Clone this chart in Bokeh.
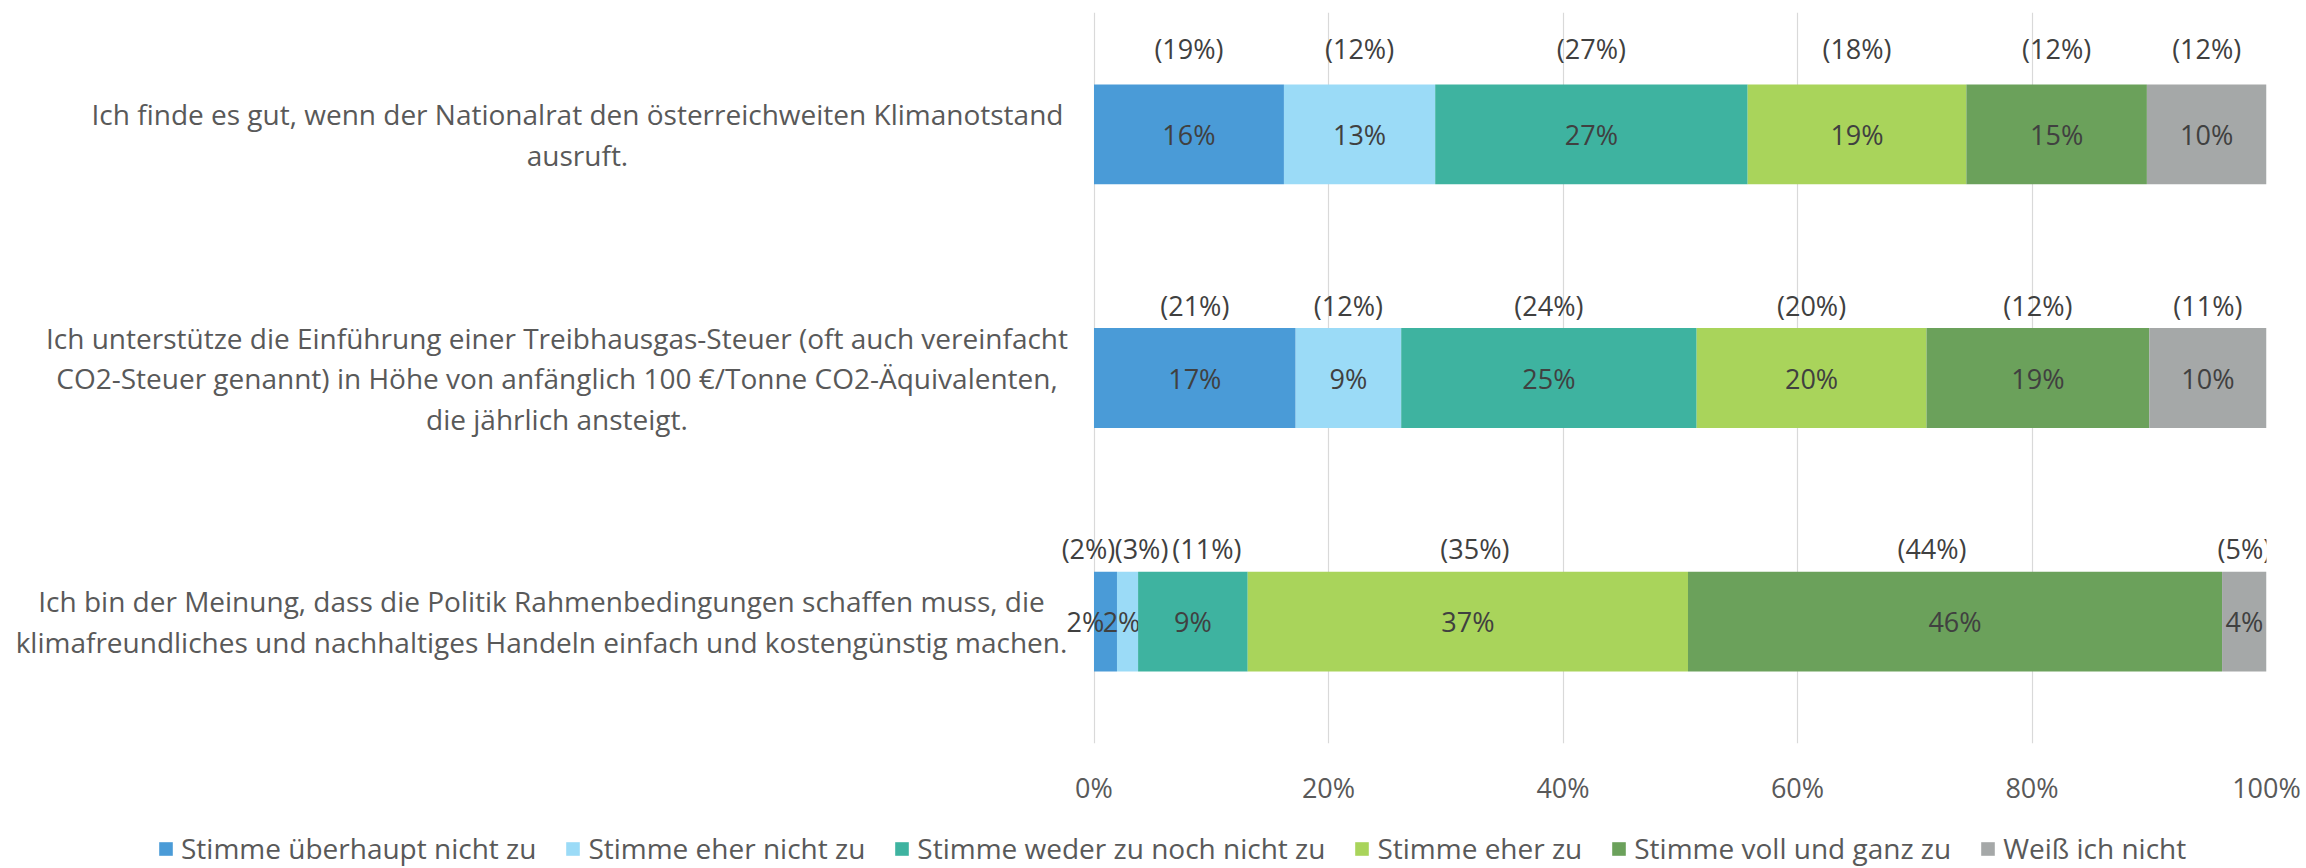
from bokeh.plotting import figure
from bokeh.models import ColumnDataSource, FactorRange, Range1d, FixedTicker, Legend, LegendItem, PrintfTickFormatter
from bokeh.layouts import column
from bokeh.embed import file_html
from bokeh.resources import INLINE
from bokeh.core.properties import value

# ---------------- data ----------------
question_keys = ["q1", "q2", "q3"]
question_texts = [
    "Ich finde es gut, wenn der Nationalrat den österreichweiten Klimanotstand\nausruft.",
    "Ich unterstütze die Einführung einer Treibhausgas-Steuer (oft auch vereinfacht\nCO2-Steuer genannt) in Höhe von anfänglich 100 €/Tonne CO2-Äquivalenten,\ndie jährlich ansteigt.",
    "Ich bin der Meinung, dass die Politik Rahmenbedingungen schaffen muss, die\nklimafreundliches und nachhaltiges Handeln einfach und kostengünstig machen.",
]
answer_categories = [
    "Stimme überhaupt nicht zu",
    "Stimme eher nicht zu",
    "Stimme weder zu noch nicht zu",
    "Stimme eher zu",
    "Stimme voll und ganz zu",
    "Weiß ich nicht",
]
# bar shares (percent of 100% stacked bar)
q1_shares = [16.2, 12.9, 26.65, 18.65, 15.4, 10.2]
q2_shares = [17.2, 9.0, 25.2, 19.6, 19.0, 10.0]
q3_shares = [1.96, 1.8, 9.35, 37.55, 45.55, 3.8]
# printed labels inside the bars
q1_labels = [16, 13, 27, 19, 15, 10]
q2_labels = [17, 9, 25, 20, 19, 10]
q3_labels = [2, 2, 9, 37, 46, 4]
# printed comparison labels above the bars (in brackets)
q1_previous = [19, 12, 27, 18, 12, 12]
q2_previous = [21, 12, 24, 20, 12, 11]
q3_previous = [2, 3, 11, 35, 44, 5]
x_ticks = [0, 20, 40, 60, 80, 100]

shares = [q1_shares, q2_shares, q3_shares]
labels = [q1_labels, q2_labels, q3_labels]
previous = [q1_previous, q2_previous, q3_previous]

# ---------------- style / layout ----------------
colors = ["#4A9BD7", "#9BDBF7", "#3EB3A0", "#A9D45B", "#6BA15B", "#A5A8A8"]
FONT = value("Open Sans")
FS = "27px"
CAT_FS = "28px"
LEG_FS = "28px"
TEXT_DARK = "#404040"
TEXT_GREY = "#595959"
W, H = 2306, 868
LEG_H = 56                                 # height of the legend strip
MAIN_H = H - LEG_H
RIGHT_BORDER = 40
ZERO_PX = 1093.5                           # 0% in figure pixels
FRAME_RIGHT = W - RIGHT_BORDER             # 100%
TOP_PX, BOTTOM_PX = 12, 743
px_per_pct = (FRAME_RIGHT - ZERO_PX) / 100.0
x_start = -ZERO_PX / px_per_pct
BAR_H = 0.41
above_offset = [-86, -73, -73]            # px above bar centre, per question
label_line_h = 40.5
label_gap = 31
label_block_w = [971, 1012, 1043]
LEGEND_X, LEGEND_Y = 157, 1
# pixel nudges for crowded labels (question index, category index) -> dx
inner_nudge = {(2, 0): -20, (2, 1): -6}
above_nudge = {(2, 0): -17, (2, 1): 14, (2, 2): 14, (2, 3): 7, (2, 4): -23}

p = figure(width=W, height=MAIN_H, output_backend="svg", toolbar_location=None,
           x_range=Range1d(x_start, 100),
           y_range=FactorRange(factors=list(reversed(question_keys))),
           y_axis_location=None,
           min_border_left=0, min_border_right=RIGHT_BORDER,
           min_border_top=TOP_PX, min_border_bottom=MAIN_H - BOTTOM_PX)
p.outline_line_color = None
p.background_fill_color = "white"
p.border_fill_color = "white"
p.ygrid.visible = False
p.xgrid.ticker = FixedTicker(ticks=x_ticks)
p.xgrid.grid_line_color = "#D9D9D9"
p.xgrid.grid_line_width = 1.2

ax = p.xaxis[0]
ax.ticker = FixedTicker(ticks=x_ticks)
ax.formatter = PrintfTickFormatter(format="%d%%")
ax.axis_line_color = None
ax.major_tick_line_color = None
ax.minor_tick_line_color = None
ax.major_label_text_font = "Open Sans"
ax.major_label_text_font_size = FS
ax.major_label_text_color = TEXT_GREY
ax.major_label_standoff = 19

for ci, cat in enumerate(answer_categories):
    left, right, ys = [], [], []
    for qi, qk in enumerate(question_keys):
        l = sum(shares[qi][:ci])
        left.append(l)
        right.append(l + shares[qi][ci])
        ys.append(qk)
    src = ColumnDataSource(dict(
        y=ys, left=left, right=right,
        xc=[(a + b) / 2 for a, b in zip(left, right)],
        txt=[f"{labels[qi][ci]}%" for qi in range(3)],
        prev=[f"({previous[qi][ci]}%)" for qi in range(3)],
        dx_in=[inner_nudge.get((qi, ci), 0) for qi in range(3)],
        dx_ab=[above_nudge.get((qi, ci), 0) for qi in range(3)],
        dy_ab=above_offset,
    ))
    p.hbar(y="y", left="left", right="right", height=BAR_H, source=src,
           fill_color=colors[ci], line_color=None)
    p.text(x="xc", y="y", text="txt", source=src, x_offset="dx_in",
           text_align="center", text_baseline="middle",
           text_font=FONT, text_font_size=FS, text_color=TEXT_DARK)
    p.text(x="xc", y="y", text="prev", source=src, x_offset="dx_ab", y_offset="dy_ab",
           text_align="center", text_baseline="middle",
           text_font=FONT, text_font_size=FS, text_color=TEXT_DARK)

# category labels (lines centred within a right-aligned block)
lx, ly, lt, lxo, lyo = [], [], [], [], []
for qi, (qk, qt) in enumerate(zip(question_keys, question_texts)):
    lines = qt.split("\n")
    n = len(lines)
    for j, line in enumerate(lines):
        lx.append(0)
        ly.append(qk)
        lt.append(line)
        lxo.append(-(label_gap + label_block_w[qi] / 2))
        lyo.append((j - (n - 1) / 2) * label_line_h)
p.text(x="x", y="y", text="t", x_offset="xo", y_offset="yo",
       source=ColumnDataSource(dict(x=lx, y=ly, t=lt, xo=lxo, yo=lyo)),
       text_align="center", text_baseline="middle",
       text_font=FONT, text_font_size=CAT_FS, text_color=TEXT_GREY)

# ---------------- legend strip ----------------
pl = figure(width=W, height=LEG_H, output_backend="svg", toolbar_location=None,
            x_range=Range1d(0, 1), y_range=Range1d(0, 1),
            x_axis_location=None, y_axis_location=None,
            min_border_left=0, min_border_right=RIGHT_BORDER,
            min_border_top=0, min_border_bottom=0)
pl.outline_line_color = None
pl.grid.visible = False
legend_items = []
for ci, cat in enumerate(answer_categories):
    # swatch-only renderer, kept outside the visible strip
    r = pl.hbar(y=[-5], left=[0], right=[1], height=1, fill_color=colors[ci], line_color=None)
    legend_items.append(LegendItem(label=cat, renderers=[r]))
legend = Legend(items=legend_items, orientation="horizontal",
                location=(LEGEND_X, LEGEND_Y), glyph_width=17, glyph_height=17,
                label_text_font="Open Sans", label_text_font_size=LEG_FS,
                label_text_color=TEXT_GREY, label_standoff=7, spacing=28,
                label_height=17,
                padding=0, margin=0, border_line_color=None,
                background_fill_alpha=0)
pl.add_layout(legend, "center")

layout = column(p, pl, spacing=0)
open("out.html", "w").write(file_html(layout, INLINE))
